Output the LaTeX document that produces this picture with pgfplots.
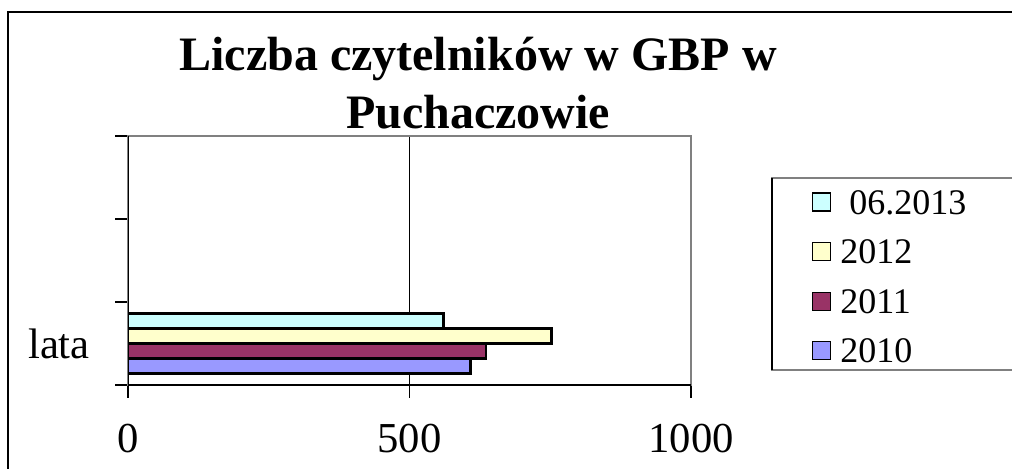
\documentclass[border=0pt]{standalone}
\usepackage{fontspec}
\setmainfont{Liberation Serif}
\usepackage{pgfplots}
\pgfplotsset{compat=1.18}
\definecolor{c2010}{HTML}{9999FF}
\definecolor{c2011}{HTML}{993366}
\definecolor{c2012}{HTML}{FFFFCC}
\definecolor{c2013}{HTML}{CCFFFF}
\definecolor{framegray}{HTML}{808080}
\pgfplotstableread{
val pos
608 1
}\tA
\pgfplotstableread{
val pos
636 1
}\tB
\pgfplotstableread{
val pos
752 1
}\tC
\pgfplotstableread{
val pos
560 1
}\tD
\begin{document}
\begin{tikzpicture}
\useasboundingbox (0,0) rectangle (759pt,351pt);
% outer chart border
\draw[black, line width=1pt] (6pt,-2pt) -- (6pt,342pt) -- (762pt,342pt);
% title
\node[anchor=base, font=\fontsize{36}{40}\selectfont\bfseries, inner sep=0pt] at (358.5pt,297.75pt) {Liczba czytelników w GBP w};
\node[anchor=base, font=\fontsize{36}{40}\selectfont\bfseries, inner sep=0pt] at (358.5pt,254.25pt) {Puchaczowie};
% legend box
\draw[framegray, line width=1pt] (762pt,217.5pt) -- (579pt,217.5pt) -- (579pt,73.5pt) -- (762pt,73.5pt);
\draw[black, line width=1pt] (579pt,217.5pt) -- (579pt,73.5pt);
\begin{axis}[
  at={(96pt,62.25pt)}, anchor=origin,
  scale only axis, width=422.25pt, height=186.75pt,
  xmin=0, xmax=1000, ymin=0.5, ymax=3.5,
  xbar=0pt, bar width=11.25pt,
  xtick={0,500,1000},
  ytick={0.5,1.5,2.5,3.5}, yticklabels={},
  xtick pos=bottom, ytick pos=left,
  tick align=outside, major tick length=9.5pt,
  tick style={black, line width=0.8pt},
  xmajorgrids, grid style={black, line width=0.6pt},
  axis line style={framegray, line width=0.9pt},
  /pgf/number format/assume math mode=true,
  /pgf/number format/1000 sep={},
  xticklabel style={font=\fontsize{32}{32}\selectfont, anchor=base, inner sep=0pt, yshift=-41pt},
  extra y ticks={1}, extra y tick labels={lata},
  extra y tick style={major tick length=0pt, yticklabel style={font=\fontsize{32}{32}\selectfont, anchor=base east, inner sep=0pt, xshift=-28.5pt, yshift=-10.9pt}},
  reverse legend,
  legend style={at={(1.1439,0.8313)}, anchor=north west, draw=none, fill=none,
    font=\fontsize{27}{27}\selectfont, inner xsep=29.75pt, inner ysep=9pt, row sep=17.7pt, column sep=6.75pt,
    nodes={inner sep=0pt, anchor=base west}},
  legend cell align=left,
  legend image code/.code={\draw[#1, draw=black, line width=1pt] (0pt,2.3pt) rectangle (13.5pt,15.8pt);},
]
\addplot[fill=c2010, draw=black, line width=2pt] table[x=val, y=pos] {\tA};
\addlegendentry{2010}
\addplot[fill=c2011, draw=black, line width=2pt] table[x=val, y=pos] {\tB};
\addlegendentry{2011}
\addplot[fill=c2012, draw=black, line width=2pt] table[x=val, y=pos] {\tC};
\addlegendentry{2012}
\addplot[fill=c2013, draw=black, line width=2pt] table[x=val, y=pos] {\tD};
\addlegendentry{\hspace{0.25em}06.2013}
\draw[black, line width=0.9pt] (rel axis cs:0,0) -- (rel axis cs:0,1);
\draw[black, line width=0.9pt] (rel axis cs:0,0) -- (rel axis cs:1,0);
\end{axis}
\end{tikzpicture}
\end{document}
